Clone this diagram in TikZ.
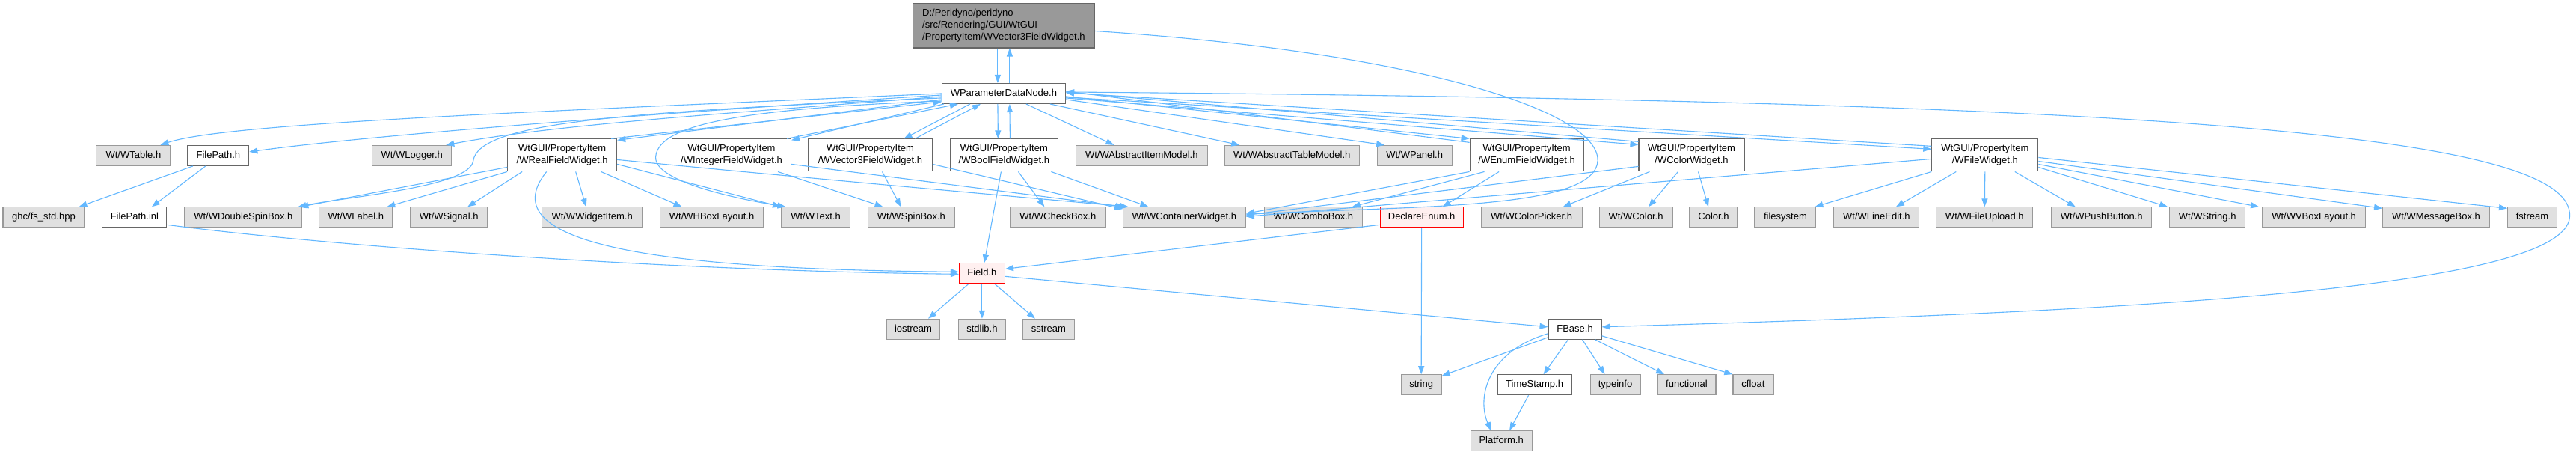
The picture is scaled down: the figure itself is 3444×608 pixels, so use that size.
\documentclass[tikz,border=0pt]{standalone}
\usepackage{fontspec}
\setmainfont{Liberation Sans}
\usetikzlibrary{arrows.meta}
\definecolor{edgeblue}{HTML}{63B8FF}
\definecolor{boxfill}{HTML}{E0E0E0}
\definecolor{boxline}{HTML}{999999}
\definecolor{nodeline}{HTML}{666666}
\definecolor{focusfill}{HTML}{999999}
\definecolor{warnfill}{HTML}{FFF0F0}
\begin{document}
\begin{tikzpicture}[x=1pt, y=-1pt, every node/.style={font=\fontsize{13}{16}\selectfont},
  inc/.style={draw=edgeblue, line width=1.1pt, -{Triangle[length=11pt,width=8pt]}},
  sysbox/.style={draw=boxline, fill=boxfill, line width=1.1pt, minimum height=27pt, inner sep=0pt, text height=9.5pt, text depth=2.8pt},
  srcbox/.style={sysbox, draw=nodeline, fill=white},
  warnbox/.style={sysbox, draw=red, fill=warnfill},
  twoline/.style={draw=nodeline, fill=white, line width=1.1pt, minimum height=43pt, inner sep=0pt, align=center},
  topbox/.style={draw=nodeline, fill=focusfill, line width=1.1pt, minimum height=59pt, inner sep=0pt, align=left}]
\path[fill=white] (0,0) rectangle (3444,608);

\node[topbox, minimum width=243pt] (main) at (1342.5,34.5) {D:/Peridyno/peridyno\\/src/Rendering/GUI/WtGUI\\/PropertyItem/WVector3FieldWidget.h};
\node[srcbox, minimum width=165pt] (wpdn) at (1342.5,125) {WParameterDataNode.h};

\node[sysbox, minimum width=99pt] (wtable) at (178.5,208) {Wt/WTable.h};
\node[srcbox, minimum width=82pt] (filepath) at (292,208) {FilePath.h};
\node[sysbox, minimum width=106pt] (wlogger) at (551,208) {Wt/WLogger.h};
\node[twoline, minimum width=146pt] (wreal) at (752,207.5) {WtGUI/PropertyItem\\/WRealFieldWidget.h};
\node[twoline, minimum width=159pt] (winteger) at (978.5,207.5) {WtGUI/PropertyItem\\/WIntegerFieldWidget.h};
\node[twoline, minimum width=166pt] (wvector) at (1164,207.5) {WtGUI/PropertyItem\\/WVector3FieldWidget.h};
\node[twoline, minimum width=144pt] (wbool) at (1343,207.5) {WtGUI/PropertyItem\\/WBoolFieldWidget.h};
\node[sysbox, minimum width=176pt] (wabsitem) at (1527,208) {Wt/WAbstractItemModel.h};
\node[sysbox, minimum width=180pt] (wabstable) at (1728,208) {Wt/WAbstractTableModel.h};
\node[sysbox, minimum width=100pt] (wpanel) at (1892,208) {Wt/WPanel.h};
\node[twoline, minimum width=152pt] (wenum) at (2042,207.5) {WtGUI/PropertyItem\\/WEnumFieldWidget.h};
\node[twoline, minimum width=141pt] (wcolorw) at (2262.5,207.5) {WtGUI/PropertyItem\\/WColorWidget.h};
\node[twoline, minimum width=142pt] (wfilew) at (2655,207.5) {WtGUI/PropertyItem\\/WFileWidget.h};

\node[sysbox, minimum width=109pt] (ghc) at (58.5,290.5) {ghc/fs\_std.hpp};
\node[srcbox, minimum width=86pt] (filepathinl) at (180,290.5) {FilePath.inl};
\node[sysbox, minimum width=157pt] (wdsb) at (325.5,290.5) {Wt/WDoubleSpinBox.h};
\node[sysbox, minimum width=98pt] (wlabel) at (476,290.5) {Wt/WLabel.h};
\node[sysbox, minimum width=103pt] (wsignal) at (600.5,290.5) {Wt/WSignal.h};
\node[sysbox, minimum width=134pt] (wwidgetitem) at (792,290.5) {Wt/WWidgetItem.h};
\node[sysbox, minimum width=138pt] (whbox) at (952,290.5) {Wt/WHBoxLayout.h};
\node[sysbox, minimum width=92pt] (wtext) at (1091,290.5) {Wt/WText.h};
\node[sysbox, minimum width=116pt] (wspinbox) at (1219,290.5) {Wt/WSpinBox.h};
\node[sysbox, minimum width=128pt] (wcheckbox) at (1415,290.5) {Wt/WCheckBox.h};
\node[sysbox, minimum width=164pt] (wcontainer) at (1584,290.5) {Wt/WContainerWidget.h};
\node[sysbox, minimum width=131pt] (wcombo) at (1756.5,290.5) {Wt/WComboBox.h};
\node[warnbox, minimum width=111pt] (declareenum) at (1901.5,290.5) {DeclareEnum.h};
\node[sysbox, minimum width=135pt] (wcolorpicker) at (2048.5,290.5) {Wt/WColorPicker.h};
\node[sysbox, minimum width=98pt] (wcolor) at (2188,290.5) {Wt/WColor.h};
\node[sysbox, minimum width=64pt] (colorh) at (2292,290.5) {Color.h};
\node[sysbox, minimum width=82pt] (filesystem) at (2388,290.5) {filesystem};
\node[sysbox, minimum width=114pt] (wlineedit) at (2510,290.5) {Wt/WLineEdit.h};
\node[sysbox, minimum width=129pt] (wfileupload) at (2654.5,290.5) {Wt/WFileUpload.h};
\node[sysbox, minimum width=134pt] (wpushbutton) at (2811,290.5) {Wt/WPushButton.h};
\node[sysbox, minimum width=101pt] (wstring) at (2952.5,290.5) {Wt/WString.h};
\node[sysbox, minimum width=138pt] (wvbox) at (3095,290.5) {Wt/WVBoxLayout.h};
\node[sysbox, minimum width=143pt] (wmsgbox) at (3258.5,290.5) {Wt/WMessageBox.h};
\node[sysbox, minimum width=66pt] (fstream) at (3387,290.5) {fstream};

\node[warnbox, minimum width=61pt] (field) at (1313.5,365.5) {Field.h};

\node[sysbox, minimum width=71pt] (iostream) at (1221.5,440) {iostream};
\node[sysbox, minimum width=63pt] (stdlib) at (1313.5,440) {stdlib.h};
\node[sysbox, minimum width=69pt] (sstream) at (1402.5,440) {sstream};
\node[srcbox, minimum width=71pt] (fbase) at (2106.5,440) {FBase.h};

\node[sysbox, minimum width=54pt] (string) at (1901,514.5) {string};
\node[srcbox, minimum width=99pt] (timestamp) at (2052.5,514.5) {TimeStamp.h};
\node[sysbox, minimum width=67pt] (typeinfo) at (2160.5,514.5) {typeinfo};
\node[sysbox, minimum width=78pt] (functional) at (2256,514.5) {functional};
\node[sysbox, minimum width=54pt] (cfloat) at (2345,514.5) {cfloat};

\node[sysbox, minimum width=82pt] (platform) at (2008,589.5) {Platform.h};

\draw[inc] ([xshift=-8pt]main.south) -- ([xshift=-8pt]wpdn.north);
\draw[inc] ([xshift=8pt]wpdn.north) -- ([xshift=8pt]main.south);
\draw[inc] ([yshift=-7pt]main.east) .. controls (1900,70) and (2140,150) .. (2137,215) .. controls (2133,280) and (1900,275) .. ([yshift=4pt]wcontainer.east);

\draw[inc] ([yshift=2pt]wpdn.east) .. controls (2900,135) and (3445,180) .. (3437,290) .. controls (3430,390) and (2800,418) .. ([yshift=3pt]fbase.east);
\draw[inc] ([xshift=-8pt]wpdn.south) -- ([xshift=-8pt]wbool.north);
\draw[inc] ([xshift=8pt]wbool.north) -- ([xshift=8pt]wpdn.south);
\draw[inc] ([xshift=30pt]wpdn.south) -- ([xshift=-37pt]wabsitem.north);
\draw[inc] ([xshift=62pt]wpdn.south) -- ([xshift=-70pt]wabstable.north);
\draw[inc] ([yshift=-8pt]wpdn.east) -- ([xshift=-40pt]wpanel.north);
\draw[inc] ([yshift=-4pt]wpdn.east) -- (wenum.north west);
\draw[inc] ([yshift=-5pt]wenum.north west) -- ([yshift=3pt]wpdn.east);
\draw[inc] ([yshift=-6pt]wpdn.east) -- ([yshift=-8pt]wcolorw.north west);
\draw[inc] ([yshift=-4pt]wcolorw.north west) -- ([yshift=2pt]wpdn.east);
\draw[inc] ([yshift=-5pt]wpdn.east) -- ([yshift=-14pt]wfilew.north west);
\draw[inc] ([yshift=-10pt]wfilew.north west) -- ([yshift=1pt]wpdn.east);

\draw[inc] (wpdn.west) .. controls (700,150) and (300,165) .. ([xshift=-14pt]wtable.north east);
\draw[inc] ([yshift=-2pt]wpdn.west) .. controls (900,150) and (500,180) .. ([yshift=5pt]filepath.east);
\draw[inc] ([yshift=-4pt]wpdn.west) .. controls (1000,150) and (750,165) .. ([xshift=-8pt]wlogger.north east);
\draw[inc] ([yshift=-8pt]wpdn.west) -- ([yshift=-2pt]wreal.north east);
\draw[inc] ([xshift=-8pt]wreal.north east) -- ([yshift=-11pt]wpdn.west);
\draw[inc] ([xshift=3pt]wpdn.south west) -- ([yshift=-2pt]winteger.north east);
\draw[inc] ([xshift=-6pt]winteger.north east) -- ([xshift=22pt]wpdn.south west);
\draw[inc] ([xshift=-45pt]wpdn.south) -- ([xshift=45pt]wvector.north);
\draw[inc] ([xshift=60pt]wvector.north) -- ([xshift=-31pt]wpdn.south);
\draw[inc] ([yshift=-6pt]wpdn.west) .. controls (820,150) and (640,165) .. (633,215) .. controls (628,250) and (470,262) .. ([xshift=-6pt]wdsb.north east);
\draw[inc] ([yshift=-10pt]wpdn.west) .. controls (1000,145) and (880,165) .. (877,210) .. controls (875,245) and (1000,268) .. ([xshift=-40pt]wtext.north);

\draw[inc] ([yshift=-16pt]wreal.west) -- ([xshift=-3pt]wdsb.north east);
\draw[inc] (wreal.south west) -- ([xshift=-8pt]wlabel.north east);
\draw[inc] ([xshift=20pt]wreal.south west) -- ([xshift=25pt]wsignal.north);
\draw[inc] ([xshift=18pt]wreal.south) -- ([xshift=-8pt]wwidgetitem.north);
\draw[inc] ([xshift=52pt]wreal.south) -- ([xshift=-40pt]whbox.north);
\draw[inc] ([yshift=-12pt]wreal.east) -- (wtext.north west);
\draw[inc] ([yshift=-6pt]wreal.east) .. controls (1100,240) and (1350,262) .. ([xshift=8pt]wcontainer.north west);
\draw[inc] ([xshift=-21pt]wreal.south) .. controls (650,330) and (900,360) .. ([yshift=2pt]field.west);

\draw[inc] ([xshift=62pt]winteger.south) -- ([xshift=-38pt]wspinbox.north);
\draw[inc] ([yshift=-12pt]winteger.east) -- ([xshift=2pt]wcontainer.north west);
\draw[inc] ([xshift=16pt]wvector.south) -- ([xshift=-14pt]wspinbox.north);
\draw[inc] ([yshift=-12pt]wvector.east) -- ([yshift=-3pt]wcontainer.north west);

\draw[inc] ([xshift=-4pt]wbool.south) -- ([xshift=3pt]field.north);
\draw[inc] ([xshift=19pt]wbool.south) -- ([xshift=-18pt]wcheckbox.north);
\draw[inc] ([xshift=63pt]wbool.south) -- ([xshift=-48pt]wcontainer.north);

\draw[inc] (wenum.south west) -- ([yshift=5pt]wcontainer.east);
\draw[inc] ([xshift=20pt]wenum.south west) -- ([xshift=-14pt]wcombo.north east);
\draw[inc] ([xshift=-37pt]wenum.south) -- ([xshift=28pt]declareenum.north);

\draw[inc] ([yshift=-15pt]wcolorw.west) -- ([yshift=3pt]wcontainer.east);
\draw[inc] ([xshift=15pt]wcolorw.south west) -- ([xshift=-26pt]wcolorpicker.north east);
\draw[inc] ([xshift=-18pt]wcolorw.south) -- ([xshift=17pt]wcolor.north);
\draw[inc] ([xshift=9pt]wcolorw.south) -- ([xshift=-7pt]colorh.north);

\draw[inc] ([yshift=-5pt]wfilew.west) -- ([yshift=1pt]wcontainer.east);
\draw[inc] (wfilew.south west) -- ([xshift=-2pt]filesystem.north east);
\draw[inc] ([xshift=33pt]wfilew.south west) -- ([xshift=26pt]wlineedit.north);
\draw[inc] (wfilew.south) -- (wfileupload.north);
\draw[inc] ([xshift=40pt]wfilew.south) -- ([xshift=-35pt]wpushbutton.north);
\draw[inc] ([yshift=6pt]wfilew.south east) -- ([xshift=-2pt]wstring.north west);
\draw[inc] ([yshift=10pt]wfilew.south east) -- ([xshift=-4pt]wvbox.north west);
\draw[inc] ([yshift=14pt]wfilew.south east) -- ([yshift=-2pt]wmsgbox.north west);
\draw[inc] ([yshift=19pt]wfilew.south east) -- ([yshift=-2pt]fstream.north west);

\draw[inc] ([xshift=-34pt]filepath.south) -- ([xshift=-8pt]ghc.north east);
\draw[inc] ([xshift=-17pt]filepath.south) -- ([xshift=23pt]filepathinl.north);
\draw[inc] ([yshift=-10pt]filepathinl.east) .. controls (450,330) and (900,362) .. ([yshift=-1pt]field.west);

\draw[inc] ([yshift=-10pt]declareenum.west) -- ([yshift=6pt]field.east);
\draw[inc] (declareenum.south) -- (string.north);

\draw[inc] ([xshift=-18pt]field.south) -- ([xshift=20pt]iostream.north);
\draw[inc] (field.south) -- (stdlib.north);
\draw[inc] ([xshift=17pt]field.south) -- ([xshift=-18pt]sstream.north);
\draw[inc] ([yshift=-4pt]field.east) -- ([yshift=3pt]fbase.west);

\draw[inc] ([yshift=-11pt]fbase.west) -- ([yshift=-2pt]string.north east);
\draw[inc] ([yshift=-6pt]fbase.west) .. controls (1990,470) and (1975,530) .. ([xshift=-14pt]platform.north);
\draw[inc] ([xshift=-9pt]fbase.south) -- ([xshift=12pt]timestamp.north);
\draw[inc] ([xshift=10pt]fbase.south) -- ([xshift=-14pt]typeinfo.north);
\draw[inc] ([xshift=27pt]fbase.south) -- ([xshift=-30pt]functional.north);
\draw[inc] ([yshift=-9pt]fbase.east) -- (cfloat.north west);
\draw[inc] ([xshift=-8pt]timestamp.south) -- ([xshift=11pt]platform.north);
\end{tikzpicture}
\end{document}
